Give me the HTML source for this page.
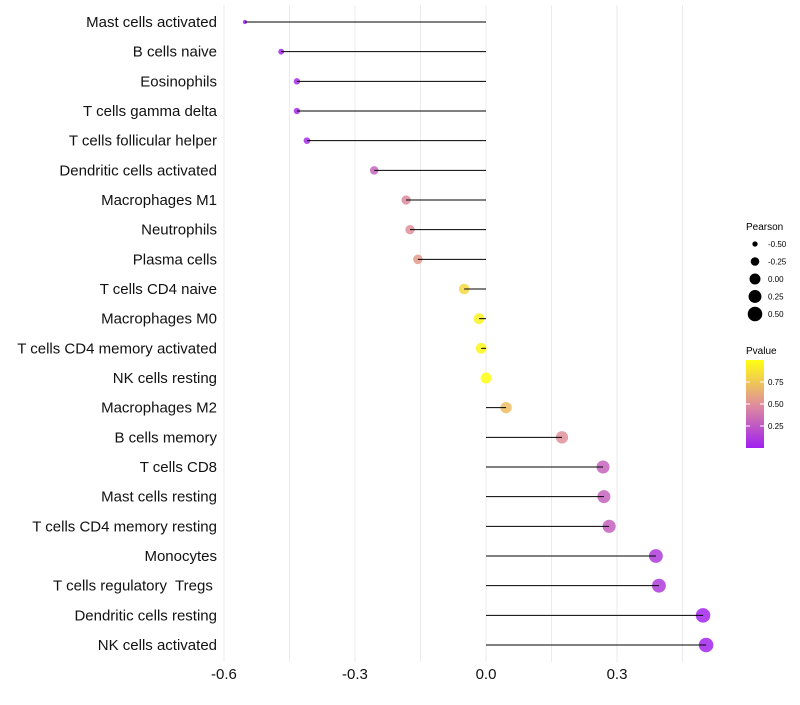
<!DOCTYPE html>
<html><head><meta charset="utf-8"><style>
html,body{margin:0;padding:0;background:#fff;}
svg text{font-family:"Liberation Sans",Arial,sans-serif;white-space:pre;}
</style></head><body>
<svg id="chart" width="800" height="700" xmlns="http://www.w3.org/2000/svg">
<defs><linearGradient id="pg" x1="0" y1="1" x2="0" y2="0">
<stop offset="0" stop-color="#a020f0"/><stop offset="0.5" stop-color="#e0909a"/><stop offset="1" stop-color="#ffff10"/></linearGradient></defs>
<g id="grid"></g>
<g id="marks"></g>
<g id="ylabels"></g>
<g id="xlabels"></g>
<g id="sizeleg">
<text x="746" y="230" font-size="10">Pearson</text>
</g>
<g>
<text x="746" y="354" font-size="10">Pvalue</text>
<rect x="746" y="360" width="18" height="88" fill="url(#pg)"/>
<g id="cbticks"></g>
</g>
</svg>
<script>
const cells=["Mast cells activated","B cells naive","Eosinophils","T cells gamma delta","T cells follicular helper","Dendritic cells activated","Macrophages M1","Neutrophils","Plasma cells","T cells CD4 naive","Macrophages M0","T cells CD4 memory activated","NK cells resting","Macrophages M2","B cells memory","T cells CD8","Mast cells resting","T cells CD4 memory resting","Monocytes","T cells regulatory  Tregs ","Dendritic cells resting","NK cells activated"];
const pearson=[-0.552,-0.469,-0.433,-0.433,-0.41,-0.256,-0.183,-0.174,-0.156,-0.05,-0.016,-0.011,0.0,0.046,0.174,0.268,0.27,0.282,0.389,0.396,0.497,0.504];
const pvalue=[0.01,0.03,0.05,0.05,0.06,0.3,0.47,0.5,0.55,0.82,0.94,0.96,1.0,0.7,0.5,0.3,0.3,0.28,0.12,0.12,0.02,0.02];
const xTicks=[-0.6,-0.3,0.0,0.3];
const xTickLabels=["-0.6","-0.3","0.0","0.3"];
const sizeLegend=[-0.5,-0.25,0,0.25,0.5];
const sizeLegendLabels=["-0.50","-0.25","0.00","0.25","0.50"];
const cbTicks=[0.25,0.5,0.75];
const cbLabels=["0.25","0.50","0.75"];
const NS="http://www.w3.org/2000/svg";
const X=v=>486+v*436.7;
const Y=i=>22+i*(623/21);
const R=p=>Math.sqrt(Math.max(1.5,30+46*p));
function mix(a,b,t){return a.map((c,i)=>Math.round(c+(b[i]-c)*t));}
function col(p){const A=[160,32,240],M=[224,144,154],B=[255,255,16];
 const c=p<0.5?mix(A,M,p/0.5):mix(M,B,(p-0.5)/0.5);return `rgb(${c.join(',')})`;}
function el(t,a,parent){const e=document.createElementNS(NS,t);for(const k in a)e.setAttribute(k,a[k]);parent.appendChild(e);return e;}
const grid=document.getElementById('grid');
[-0.6,-0.45,-0.3,-0.15,0,0.15,0.3,0.45].forEach(v=>{
 const l=el('line',{x1:X(v),x2:X(v),y1:5,y2:662,stroke:'#ebebeb','stroke-width':1},grid);
 
 
});
const marks=document.getElementById('marks'),yl=document.getElementById('ylabels');
cells.forEach((c,i)=>{
 const y=Y(i);
 const circ=el('circle',{cx:X(pearson[i]),cy:y,r:R(pearson[i]),fill:col(pvalue[i]),'fill-opacity':0.85},marks);
 
 
 const ln=el('line',{x1:X(pearson[i]),x2:X(0),y1:y,y2:y,stroke:'#000','stroke-width':1},marks);
 
 
 const t=el('text',{x:217,y:y+5,'text-anchor':'end','font-size':15,fill:'#111'},yl);
 t.textContent=c;
 
 
});
const xl=document.getElementById('xlabels');
xTicks.forEach((v,i)=>{
 const t=el('text',{x:X(v),y:679,'text-anchor':'middle','font-size':15,fill:'#111'},xl);
 t.textContent=xTickLabels[i];
 
 
});
const sl=document.getElementById('sizeleg');
sizeLegend.forEach((v,i)=>{
 const y=244+i*17.5;
 const c=el('circle',{cx:755,cy:y,r:R(v),fill:'#000'},sl);
 
 
 const t=el('text',{x:768,y:y+3,'font-size':8},sl);
 t.textContent=sizeLegendLabels[i];
 
 
});
const cb=document.getElementById('cbticks');
cbTicks.forEach((v,i)=>{
 const y=448-v*88;
 el('line',{x1:746,x2:750,y1:y,y2:y,stroke:'#fff'},cb);
 el('line',{x1:760,x2:764,y1:y,y2:y,stroke:'#fff'},cb);
 const t=el('text',{x:768,y:y+3,'font-size':8},cb);
 t.textContent=cbLabels[i];
 
 
});
</script>
</body></html>
